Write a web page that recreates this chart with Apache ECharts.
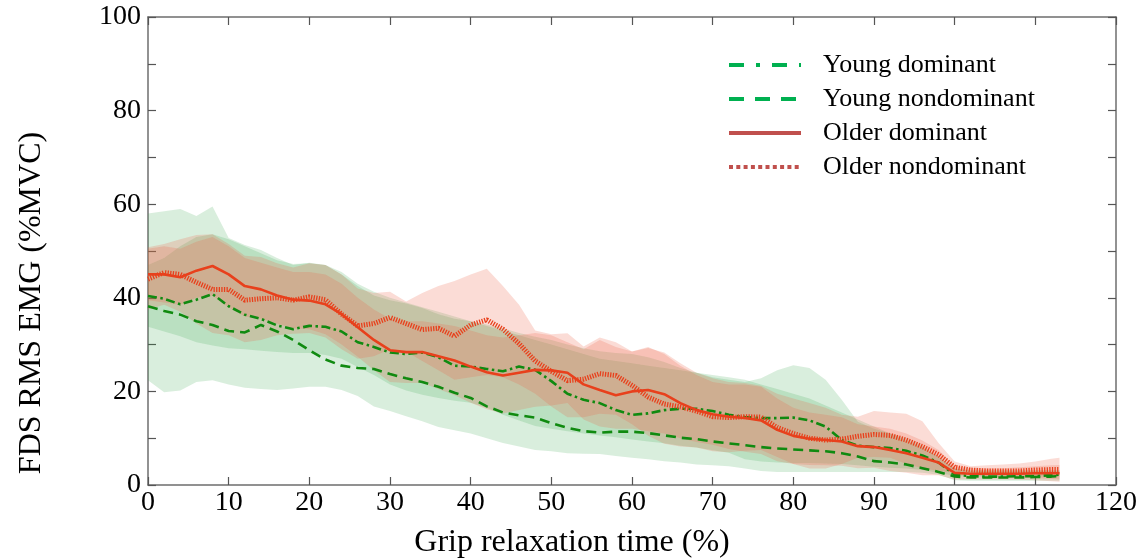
<!DOCTYPE html>
<html>
<head>
<meta charset="utf-8">
<script src="https://cdn.jsdelivr.net/npm/echarts@6/dist/echarts.min.js"></script>
<style>html,body{margin:0;padding:0;background:#fff}#chart{width:1140px;height:560px}</style>
</head>
<body>
<div id="chart"></div>
<script>
// Grip relaxation time (%)
const time = [0,2,4,6,8,10,12,14,16,18,20,22,24,26,28,30,32,34,36,38,40,42,44,46,48,50,52,54,56,58,60,62,64,66,68,70,72,74,76,78,80,82,84,86,88,90,92,94,96,98,100,102,104,106,108,110,112,113];

// Mean curves (%MVC)
const youngDominant = [40.4,39.8,38.6,39.6,40.8, 38.2,36.4,35.5,34.1,33.3, 34,33.8,32.8,30.5,29.5, 28.3,28,28.3,27.3,25.5, 25.3,24.8,24.3,25.3,24.6, 22.2,19.5,18.2,17.5,16, 15,15.3,16,16.3,16.3, 15.8,15,14.5,14.3,14.3, 14.4,13.8,12.5,9.6,8.4, 8.1,7.9,7.3,6.3,4.8, 2.2,1.9,1.8,1.8,1.9, 1.9,2.1,2.2];
const youngNondominant = [38.2,37.2,36.4,35,34.2, 32.9,32.6,34.2,32.8,31, 28.8,26.8,25.5,25,24.8, 23.7,22.8,22,21,19.7, 18.6,16.8,15.5,14.9,14.4, 13.2,12.2,11.5,11.2,11.4, 11.4,11.1,10.6,10.1,9.8, 9.3,8.9,8.5,8.1,7.8, 7.6,7.4,7.2,6.8,6.1, 5.1,4.8,4.4,3.6,2.8, 1.8,1.6,1.6,1.6,1.6, 1.7,1.8,1.9];
const olderDominant = [45,45,44.4,45.8,46.8, 45,42.5,41.8,40.5,39.6, 39.4,38.6,36.5,33.7,31, 28.8,28.4,28.4,27.5,26.6, 25.3,24.1,23.4,24,24.6, 24.5,24,21.5,20.3,19.2, 20,20.3,19.4,17.5,16, 15.1,14.6,14.3,13.8,11.8, 10.5,9.9,9.6,9.3,8.3, 8.1,7.5,6.8,5.8,4.8, 2.6,2.4,2.4,2.4,2.4, 2.5,2.5,2.5];
const olderNondominant = [44,45.4,45,43.3,41.8, 41.8,39.5,39.8,40,39.5, 40.2,39.6,36.5,34,34.5, 35.8,34.5,33.2,33.5,31.8, 34.2,35.3,33.3,30.2,26.5, 24.3,22.3,22.6,23.8,23.4, 21.3,18.8,17.3,16.7,15.8, 14.6,14.4,14.6,14.5,12.3, 11,10,9.6,9.8,10.4, 10.8,10.6,9.6,8.2,6.5, 3.8,3.2,3,3,3, 3.2,3.3,3.3];

// Shaded bands (lower / upper)
const youngDominantLow = [22.4,19.8,20.2,22,22.4, 21.5,20.8,20.5,20.3,20.6, 21,21,20.3,19,16.8, 15.8,14.7,13.6,12.4,11.7, 11,10,9,8.2,7.5, 7.2,6.8,6.7,6.6,6.2, 5.8,5.5,5.1,4.8,4.4, 4.2,4,3.5,3,2.8, 2.8,2.8,2.8,2.8,2.8, 2.8,2.8,2.8,2.6,2.2, 1,0.9,0.9,0.9,0.9, 0.9,0.9,0.9];
const youngDominantHigh = [58,58.5,59,57.5,59.5, 52.8,51.3,50.2,48.5,47, 47.5,47,45.5,43,41.3, 40,39,38,37,36, 35,34,33,32,31, 30,29,28,27,26.5, 26,25.5,25,24.5,24, 23,22.5,22,22.8,24.5, 25.6,25,22.5,18.2,13.5, 12,11,10,8.5,6, 3.5,3,3,3,3, 3,3,3];
const youngNondominantLow = [33.8,32.8,31.8,30.5,29.8, 29.2,29,28.7,28.4,28.2, 28.2,27.8,27,25.2,23.5, 21.5,20.2,19.3,18.6,18, 17.6,16.5,15,13.8,12.6, 12,11.5,11,10.6,10.2, 9.7,9.3,8.9,8.4,8, 7.4,6.9,5.5,5,4.8, 4.7,4.7,4.6,4.5,4.2, 3.9,3.7,3.5,3.2,2.6, 1.9,1.8,1.8,1.8,1.8, 1.8,1.8,1.8];
const youngNondominantHigh = [47,48.5,51,53,53.6, 52.5,51,49.5,48,47.2, 47.4,47,45,42.5,40.5, 39.5,38.8,37.8,36.5,35.5, 35,34.3,33.5,32.5,31.7, 31,30,29.2,28.6,28.2, 28,27.3,26.3,25,24, 23.5,23,22.5,21.5,20.5, 19.5,18.5,17,15.5,14, 12.5,11,9.5,8,6, 3.5,3.2,3.2,3.2,3.2, 3.2,3.2,3.2];
const olderDominantLow = [39.5,39,38.5,40,40.5, 38,36,35.5,34.5,33.5, 33.3,32.2,30,27.4,24.5, 22,21.8,21.8,20.5,19.2, 17.6,16.2,15.3,16,16.7, 17,17.5,14,12.5,12, 12,11.5,11,10,9.2, 8.6,7.7,7.1,6.6,5.1, 4.5,4.3,4.2,4.1,3.6, 3.7,3,2.6,2.1,2.1, 1.2,1.2,1.2,1.2,1.1, 1,0.8,0.7];
const olderDominantHigh = [50.5,51,50.5,52,53, 51,48.5,47.5,46.5,45.5, 45.5,45,43,40,37.5, 35.5,35,35,34.5,34, 33,32,31.5,32,32.5, 32,30.5,29,31,29.5, 28.5,29.5,28,25.5,23.5, 22,21.5,21.5,21,18.5, 16.5,15.5,15,14.5,13, 12.5,12,11,9.5,7.5, 4,3.6,3.6,3.6,3.8, 4,4.2,4.3];
const olderNondominantLow = [37.5,38.5,37,34.5,32.5, 32,30.5,31,32,32.3, 32.5,31.5,29,27,27.5, 29,28.5,26.5,24.5,22.5, 23,23.5,23,21.5,19.5, 16.8,14.5,14.5,15.2,15, 13,10.5,8.8,8.2,8, 7.2,7,7.3,7.5,6, 4.5,3.5,3.5,4.5,5.8, 6,5.8,4.5,3.6,3, 2.6,2.3,1.9,1.7,1.5, 1.5,1.3,1.2];
const olderNondominantHigh = [50.8,51.5,52.5,53.4,53.6, 51.5,49,48.7,47.4,46.5, 47.4,47,45,42,41, 41.3,39.2,41,42.5,43.6, 45,46.2,42.5,38.5,33, 32.2,32.4,29.6,31.5,30.5, 28.5,29.3,28.3,26,24, 22.8,22,21.8,21.2,19.5, 18.5,17.5,16.5,15,14.6, 15.8,15.5,15.2,13.6,9, 5,4,4.2,4.4,4.6, 5,5.6,5.8];

const xTicks = {min: 0, max: 120, interval: 10};
const yTicks = {min: 0, max: 100, interval: 20};

const FONT = '"Liberation Serif", "Times New Roman", serif';
const GREEN_BAND = 'rgba(46,160,67,0.18)';
const RED_BAND = 'rgba(235,95,70,0.22)';

function bandSeries(id, low, high, color) {
  return {
    type: 'custom', name: id, coordinateSystem: 'cartesian2d', silent: true, z: 1, clip: true,
    data: time.map((t, i) => [t, low[i], high[i]]),
    encode: {x: 0, y: [1, 2]},
    renderItem: function (params, api) {
      if (params.dataIndex !== 0) return null;
      const pts = [];
      for (let i = 0; i < time.length; i++) pts.push(api.coord([time[i], high[i]]));
      for (let i = time.length - 1; i >= 0; i--) pts.push(api.coord([time[i], low[i]]));
      return {type: 'polygon', shape: {points: pts}, style: {fill: color, stroke: null}};
    }
  };
}

function meanSeries(name, values, color, type, width) {
  return {type: 'line', name: name, symbol: 'none', showSymbol: false, z: 5,
    data: time.map((t, i) => [t, values[i]]),
    lineStyle: {color: color, type: type, width: width, cap: 'butt'},
    itemStyle: {color: color}};
}

const axisLineStyle = {color: '#6e6e6e', width: 1.5};
const tickStyle = {color: '#555', width: 1.2};
const hideSym = {opacity: 0};

const option = {
  animation: false,
  grid: {left: 148, right: 23, top: 17, bottom: 75, containLabel: false},
  xAxis: [
    {type: 'value', min: xTicks.min, max: xTicks.max, interval: xTicks.interval, position: 'bottom',
     axisLine: {show: true, lineStyle: axisLineStyle},
     axisTick: {show: true, inside: true, length: 8, lineStyle: tickStyle},
     axisLabel: {fontFamily: FONT, fontSize: 28, color: '#000', margin: 4},
     splitLine: {show: false}},
    {type: 'value', min: xTicks.min, max: xTicks.max, interval: xTicks.interval, position: 'top',
     axisLine: {show: true, onZero: false, lineStyle: axisLineStyle},
     axisTick: {show: true, inside: true, length: 8, lineStyle: tickStyle},
     axisLabel: {show: false}, splitLine: {show: false}}
  ],
  yAxis: [
    {type: 'value', min: yTicks.min, max: yTicks.max, interval: yTicks.interval, position: 'left',
     axisLine: {show: true, lineStyle: axisLineStyle},
     axisTick: {show: true, inside: true, length: 8, lineStyle: tickStyle},
     minorTick: {show: true, splitNumber: 2, length: 8, lineStyle: tickStyle},
     axisLabel: {fontFamily: FONT, fontSize: 28, color: '#000', margin: 7},
     splitLine: {show: false}, minorSplitLine: {show: false}},
    {type: 'value', min: yTicks.min, max: yTicks.max, interval: yTicks.interval, position: 'right',
     axisLine: {show: true, onZero: false, lineStyle: axisLineStyle},
     axisTick: {show: true, inside: true, length: 8, lineStyle: tickStyle},
     minorTick: {show: true, splitNumber: 2, length: 8, lineStyle: tickStyle},
     axisLabel: {show: false}, splitLine: {show: false}, minorSplitLine: {show: false}}
  ],
  legend: {
    left: 722, top: 45, orient: 'vertical', itemWidth: 72, itemHeight: 14, itemGap: 4,
    selectedMode: false,
    textStyle: {fontFamily: FONT, fontSize: 26, color: '#000', padding: [0, 0, 0, 17], lineHeight: 30},
    data: [
      {name: 'Young dominant', itemStyle: hideSym, lineStyle: {color: '#00B050', type: [15, 12, 4, 12], width: 4, cap: 'butt'}},
      {name: 'Young nondominant', itemStyle: hideSym, lineStyle: {color: '#00B050', type: [15, 11], width: 4, cap: 'butt'}},
      {name: 'Older dominant', itemStyle: hideSym, lineStyle: {color: '#C0504D', type: 'solid', width: 4}},
      {name: 'Older nondominant', itemStyle: hideSym, lineStyle: {color: '#C0504D', type: [4, 3.3], width: 4, cap: 'butt'}}
    ]
  },
  graphic: [
    {type: 'text', x: 572, y: 543, silent: true,
     style: {text: 'Grip relaxation time (%)', font: '32px ' + FONT, fill: '#000', align: 'center', verticalAlign: 'middle'}},
    {type: 'text', x: 32, y: 303, rotation: Math.PI / 2, silent: true,
     style: {text: 'FDS RMS EMG (%MVC)', font: '32px ' + FONT, fill: '#000', align: 'center', verticalAlign: 'middle'}}
  ],
  series: [
    bandSeries('bYD', youngDominantLow, youngDominantHigh, GREEN_BAND),
    bandSeries('bYN', youngNondominantLow, youngNondominantHigh, GREEN_BAND),
    bandSeries('bOD', olderDominantLow, olderDominantHigh, RED_BAND),
    bandSeries('bON', olderNondominantLow, olderNondominantHigh, RED_BAND),
    meanSeries('Young dominant', youngDominant, '#108a10', [9, 3.5, 2.5, 3.5], 2.6),
    meanSeries('Young nondominant', youngNondominant, '#108a10', [10, 6], 2.6),
    meanSeries('Older nondominant', olderNondominant, '#e8401c', [1.3, 1.3], 5),
    meanSeries('Older dominant', olderDominant, '#e8401c', 'solid', 2.6)
  ]
};

const chart = echarts.init(document.getElementById('chart'), null, {renderer: 'canvas'});
chart.setOption(option);
</script>
</body>
</html>
